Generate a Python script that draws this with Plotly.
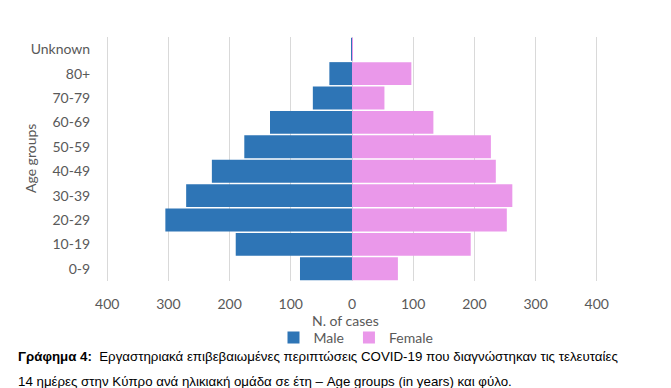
import plotly.graph_objects as go

categories = ["0-9", "10-19", "20-29", "30-39", "40-49", "50-59", "60-69", "70-79", "80+", "Unknown"]
male = [85, 190, 305, 271, 229, 176, 134, 64, 37, 1]
female = [75, 194, 253, 262, 235, 227, 133, 53, 97, 1]
tick_vals = [-400, -300, -200, -100, 0, 100, 200, 300, 400]
tick_text = ["400", "300", "200", "100", "0", "100", "200", "300", "400"]

W, H = 671, 388
L, R, T, B = 106, 73, 37, 107
pw, ph = W - L - R, H - T - B

def px(x):
    return (x - L) / pw

def py(y):
    return (H - B - y) / ph

grey = "#595959"
font = "Lato, 'Open Sans', sans-serif"

fig = go.Figure()
fig.add_trace(go.Bar(
    y=categories, x=[-v for v in male], orientation="h", name="Male",
    marker=dict(color="#2E75B6", line=dict(width=0)),
    customdata=male, hovertemplate="%{y}: %{customdata}<extra>Male</extra>",
))
fig.add_trace(go.Bar(
    y=categories, x=female, orientation="h", name="Female",
    marker=dict(color="#EA98EA", line=dict(width=0)),
    hovertemplate="%{y}: %{x}<extra>Female</extra>",
))

fig.update_layout(
    width=W, height=H,
    margin=dict(l=L, r=R, t=T, b=B, autoexpand=False),
    barmode="relative", bargap=0.06,
    plot_bgcolor="white", paper_bgcolor="white",
    font=dict(family=font, size=14, color=grey),
    showlegend=True,
    legend=dict(orientation="h", x=px(356), y=py(338), xanchor="center", yanchor="middle",
                font=dict(size=14, color=grey), traceorder="normal", itemwidth=30,
                bgcolor="rgba(0,0,0,0)", tracegroupgap=0),
    xaxis=dict(range=[-402, 402], tickvals=tick_vals, ticktext=tick_text,
               showgrid=True, gridcolor="#D9D9D9", gridwidth=1, zeroline=False,
               ticks="outside", ticklen=10, tickcolor="rgba(0,0,0,0)",
               tickfont=dict(size=14, color=grey), showline=False, fixedrange=True,
               automargin=False),
    yaxis=dict(showgrid=False, zeroline=False, ticks="outside", ticklen=12,
               tickcolor="rgba(0,0,0,0)", tickfont=dict(size=14, color=grey),
               showline=False, categoryorder="array", categoryarray=categories,
               automargin=False, fixedrange=True),
)

annotations = [
    dict(text="N. of cases", x=px(345), y=py(320), xref="paper", yref="paper",
         showarrow=False, font=dict(size=14, color=grey), xanchor="center", yanchor="middle"),
    dict(text="Age groups", x=px(30), y=py(159), xref="paper", yref="paper",
         showarrow=False, textangle=-90, font=dict(size=14, color=grey),
         xanchor="center", yanchor="middle"),
    dict(text="<b>Γράφημα 4:</b>  Εργαστηριακά επιβεβαιωμένες περιπτώσεις COVID-19 που διαγνώστηκαν τις τελευταίες",
         x=px(16), y=py(356), xref="paper", yref="paper", showarrow=False,
         font=dict(family="Liberation Sans, Arial, sans-serif", size=13.3, color="black"),
         xanchor="left", yanchor="middle"),
    dict(text="14 ημέρες στην Κύπρο ανά ηλικιακή ομάδα σε έτη – Age groups (in years) και φύλο.",
         x=px(16), y=py(381), xref="paper", yref="paper", showarrow=False,
         font=dict(family="Liberation Sans, Arial, sans-serif", size=13.3, color="black"),
         xanchor="left", yanchor="middle"),
]
fig.update_layout(annotations=annotations)

fig.write_html("out.html", config={"displayModeBar": False})

with open("out.html", encoding="utf-8") as f:
    html = f.read()
html = html.replace("<head>", "<head><style>html,body{margin:0;padding:0;overflow:hidden;}</style>", 1)
with open("out.html", "w", encoding="utf-8") as f:
    f.write(html)
